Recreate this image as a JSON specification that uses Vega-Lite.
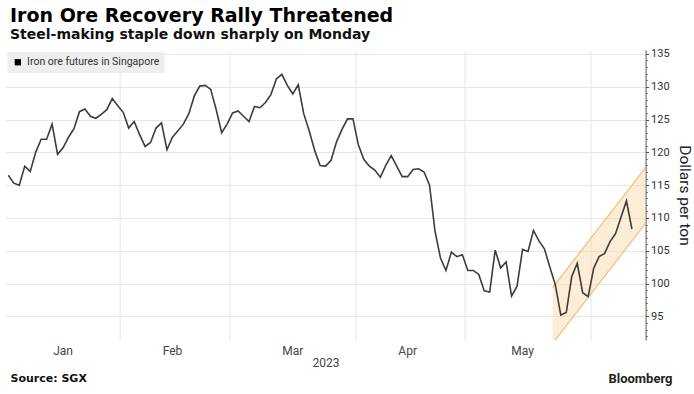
{
  "$schema": "https://vega.github.io/schema/vega-lite/v6.json",
  "width": 640,
  "height": 290,
  "autosize": "none",
  "padding": {"left": 5.6, "top": 50, "right": 48.4, "bottom": 54},
  "background": "white",
  "config": {"view": {"stroke": null}, "font": "Roboto"},
  "title": {
    "text": "Iron Ore Recovery Rally Threatened",
    "subtitle": "Steel-making staple down sharply on Monday",
    "anchor": "start",
    "frame": "group",
    "dx": 4.4,
    "offset": 6,
    "font": "DejaVu Sans",
    "fontSize": 19,
    "fontWeight": "bold",
    "color": "#000000",
    "subtitleFont": "DejaVu Sans",
    "subtitleFontSize": 14,
    "subtitleFontWeight": "bold",
    "subtitleColor": "#111111",
    "subtitlePadding": 2
  },
  "datasets": {
    "price": [
      {"date": "2023-01-03", "price": 116.5},
      {"date": "2023-01-04", "price": 115.3},
      {"date": "2023-01-05", "price": 115.0},
      {"date": "2023-01-06", "price": 117.9},
      {"date": "2023-01-09", "price": 117.1},
      {"date": "2023-01-10", "price": 120.0},
      {"date": "2023-01-11", "price": 122.0},
      {"date": "2023-01-12", "price": 122.0},
      {"date": "2023-01-13", "price": 124.3},
      {"date": "2023-01-16", "price": 119.7},
      {"date": "2023-01-17", "price": 120.7},
      {"date": "2023-01-18", "price": 122.3},
      {"date": "2023-01-19", "price": 123.6},
      {"date": "2023-01-20", "price": 126.2},
      {"date": "2023-01-23", "price": 126.6},
      {"date": "2023-01-24", "price": 125.5},
      {"date": "2023-01-25", "price": 125.2},
      {"date": "2023-01-26", "price": 125.8},
      {"date": "2023-01-27", "price": 126.5},
      {"date": "2023-01-30", "price": 128.2},
      {"date": "2023-01-31", "price": 127.1},
      {"date": "2023-02-01", "price": 126.1},
      {"date": "2023-02-02", "price": 123.7},
      {"date": "2023-02-03", "price": 124.7},
      {"date": "2023-02-06", "price": 122.7},
      {"date": "2023-02-07", "price": 120.9},
      {"date": "2023-02-08", "price": 121.5},
      {"date": "2023-02-09", "price": 123.7},
      {"date": "2023-02-10", "price": 124.5},
      {"date": "2023-02-13", "price": 120.4},
      {"date": "2023-02-14", "price": 122.3},
      {"date": "2023-02-15", "price": 123.3},
      {"date": "2023-02-16", "price": 124.3},
      {"date": "2023-02-17", "price": 125.9},
      {"date": "2023-02-20", "price": 128.6},
      {"date": "2023-02-21", "price": 130.1},
      {"date": "2023-02-22", "price": 130.2},
      {"date": "2023-02-23", "price": 129.6},
      {"date": "2023-02-24", "price": 126.5},
      {"date": "2023-02-27", "price": 123.0},
      {"date": "2023-02-28", "price": 124.3},
      {"date": "2023-03-01", "price": 126.0},
      {"date": "2023-03-02", "price": 126.3},
      {"date": "2023-03-03", "price": 125.5},
      {"date": "2023-03-06", "price": 124.7},
      {"date": "2023-03-07", "price": 127.0},
      {"date": "2023-03-08", "price": 126.8},
      {"date": "2023-03-09", "price": 127.6},
      {"date": "2023-03-10", "price": 128.8},
      {"date": "2023-03-13", "price": 131.2},
      {"date": "2023-03-14", "price": 131.9},
      {"date": "2023-03-15", "price": 130.2},
      {"date": "2023-03-16", "price": 128.9},
      {"date": "2023-03-17", "price": 130.3},
      {"date": "2023-03-20", "price": 125.9},
      {"date": "2023-03-21", "price": 123.3},
      {"date": "2023-03-22", "price": 120.3},
      {"date": "2023-03-23", "price": 118.0},
      {"date": "2023-03-24", "price": 117.9},
      {"date": "2023-03-27", "price": 118.8},
      {"date": "2023-03-28", "price": 121.6},
      {"date": "2023-03-29", "price": 123.5},
      {"date": "2023-03-30", "price": 125.1},
      {"date": "2023-03-31", "price": 125.1},
      {"date": "2023-04-03", "price": 121.1},
      {"date": "2023-04-04", "price": 118.9},
      {"date": "2023-04-05", "price": 117.9},
      {"date": "2023-04-06", "price": 117.3},
      {"date": "2023-04-07", "price": 116.2},
      {"date": "2023-04-10", "price": 118.0},
      {"date": "2023-04-11", "price": 119.5},
      {"date": "2023-04-12", "price": 117.9},
      {"date": "2023-04-13", "price": 116.3},
      {"date": "2023-04-14", "price": 116.3},
      {"date": "2023-04-17", "price": 117.4},
      {"date": "2023-04-18", "price": 117.5},
      {"date": "2023-04-19", "price": 117.0},
      {"date": "2023-04-20", "price": 115.0},
      {"date": "2023-04-21", "price": 108.0},
      {"date": "2023-04-24", "price": 103.9},
      {"date": "2023-04-25", "price": 102.0},
      {"date": "2023-04-26", "price": 104.8},
      {"date": "2023-04-27", "price": 104.1},
      {"date": "2023-04-28", "price": 104.4},
      {"date": "2023-05-01", "price": 102.0},
      {"date": "2023-05-02", "price": 102.0},
      {"date": "2023-05-03", "price": 101.4},
      {"date": "2023-05-04", "price": 98.9},
      {"date": "2023-05-05", "price": 98.7},
      {"date": "2023-05-08", "price": 105.1},
      {"date": "2023-05-09", "price": 102.4},
      {"date": "2023-05-10", "price": 103.3},
      {"date": "2023-05-11", "price": 98.1},
      {"date": "2023-05-12", "price": 99.6},
      {"date": "2023-05-15", "price": 105.2},
      {"date": "2023-05-16", "price": 104.9},
      {"date": "2023-05-17", "price": 108.1},
      {"date": "2023-05-18", "price": 106.5},
      {"date": "2023-05-19", "price": 105.3},
      {"date": "2023-05-22", "price": 102.5},
      {"date": "2023-05-23", "price": 99.8},
      {"date": "2023-05-24", "price": 95.2},
      {"date": "2023-05-25", "price": 95.6},
      {"date": "2023-05-26", "price": 101.1},
      {"date": "2023-05-29", "price": 103.1},
      {"date": "2023-05-30", "price": 98.6},
      {"date": "2023-05-31", "price": 98.0},
      {"date": "2023-06-01", "price": 102.3},
      {"date": "2023-06-02", "price": 104.1},
      {"date": "2023-06-05", "price": 104.6},
      {"date": "2023-06-06", "price": 106.4},
      {"date": "2023-06-07", "price": 107.6},
      {"date": "2023-06-08", "price": 110.1},
      {"date": "2023-06-09", "price": 112.6},
      {"date": "2023-06-12", "price": 108.3}
    ],
    "channel": [
      {"date": "2023-05-22", "upper": 99.4, "lower": 90.9},
      {"date": "2023-06-13", "upper": 116.6, "lower": 108.1},
      {"date": "2023-06-14", "upper": 117.7, "lower": 109.2}
    ]
  },
  "layer": [
    {
      "data": {"name": "channel"},
      "mark": {"type": "area", "color": "#f9d6a3", "opacity": 0.45, "clip": true},
      "encoding": {
        "x": {
          "field": "date", "type": "ordinal", "bandPosition": 1,
          "scale": {"type": "band", "paddingInner": 0, "paddingOuter": 0},
          "axis": {
            "orient": "bottom",
            "values": ["2023-02-01", "2023-03-01", "2023-04-03", "2023-05-01", "2023-06-01"],
            "bandPosition": 0, "grid": true, "gridColor": "#e6e6e6", "gridWidth": 1,
            "labels": false, "ticks": false, "domain": false, "title": null
          }
        },
        "y": {
          "field": "upper", "type": "quantitative",
          "scale": {"domain": [91.4, 135.6], "nice": false, "zero": false},
          "axis": {
            "orient": "right",
            "values": [92,93,94,96,97,98,99,101,102,103,104,106,107,108,109,111,112,113,114,116,117,118,119,121,122,123,124,126,127,128,129,131,132,133,134],
            "labels": false, "ticks": true, "tickSize": 2, "tickColor": "#888888",
            "domain": false, "grid": false, "title": null
          }
        },
        "y2": {"field": "lower"}
      }
    },
    {
      "data": {"name": "channel"},
      "mark": {"type": "line", "color": "#f4c27c", "strokeWidth": 1.3, "clip": true},
      "encoding": {
        "x": {
          "field": "date", "type": "ordinal", "bandPosition": 1,
          "axis": {
            "orient": "bottom",
            "labels": false, "ticks": false, "domain": false, "grid": false,
            "title": "Source: SGX", "titleX": 4.4, "titleY": 38, "titleAlign": "left",
            "titleBaseline": "middle", "titleFont": "DejaVu Sans", "titleFontSize": 11,
            "titleFontWeight": "bold", "titleColor": "#111111"
          }
        },
        "y": {"field": "upper", "type": "quantitative", "axis": null}
      }
    },
    {
      "data": {"name": "channel"},
      "mark": {"type": "line", "color": "#f4c27c", "strokeWidth": 1.3, "clip": true},
      "encoding": {
        "x": {
          "field": "date", "type": "ordinal", "bandPosition": 1,
          "axis": {
            "orient": "bottom",
            "labels": false, "ticks": false, "domain": false, "grid": false,
            "title": "Bloomberg", "titleX": 666.4, "titleY": 38, "titleAlign": "right",
            "titleBaseline": "middle", "titleFont": "Roboto", "titleFontSize": 13,
            "titleFontWeight": "bold", "titleColor": "#222222"
          }
        },
        "y": {"field": "lower", "type": "quantitative", "axis": null}
      }
    },
    {
      "data": {"name": "price"},
      "mark": {"type": "line", "strokeWidth": 1.6},
      "encoding": {
        "x": {
          "field": "date", "type": "ordinal", "bandPosition": 0.5,
          "axis": {
            "orient": "bottom",
            "values": ["2023-01-17", "2023-02-14", "2023-03-16", "2023-04-14", "2023-05-15"],
            "labelExpr": "utcFormat(toDate(datum.value), '%b')",
            "labelAngle": 0, "ticks": false, "domain": false, "grid": false,
            "labelFontSize": 12, "labelColor": "#444444", "labelPadding": 5,
            "title": "2023", "titleFontSize": 12, "titleFontWeight": "normal",
            "titleColor": "#444444", "titlePadding": 1
          }
        },
        "y": {
          "field": "price", "type": "quantitative",
          "axis": {
            "orient": "right",
            "values": [95, 100, 105, 110, 115, 120, 125, 130, 135],
            "grid": true, "gridColor": "#e6e6e6",
            "domainColor": "#555555", "tickColor": "#555555", "tickSize": 3,
            "labelFontSize": 11, "labelColor": "#333333", "labelPadding": 2,
            "title": "Dollars per ton", "titleFontSize": 15.5, "titleFontWeight": "normal",
            "titleColor": "#222222", "titlePadding": 7
          }
        },
        "color": {
          "datum": "Iron ore futures in Singapore",
          "scale": {"range": ["#3d3d3d"]},
          "legend": {
            "orient": "top-left", "offset": 2, "title": null,
            "fillColor": "#eeeeee", "padding": 5,
            "symbolType": "square", "symbolSize": 40,
            "symbolFillColor": "#000000", "symbolStrokeColor": "#000000", "symbolStrokeWidth": 0,
            "labelFont": "Roboto", "labelFontSize": 10.5, "labelColor": "#333333", "labelOffset": 4
          }
        }
      }
    }
  ],
  "resolve": {"axis": {"x": "independent", "y": "independent"}}
}
